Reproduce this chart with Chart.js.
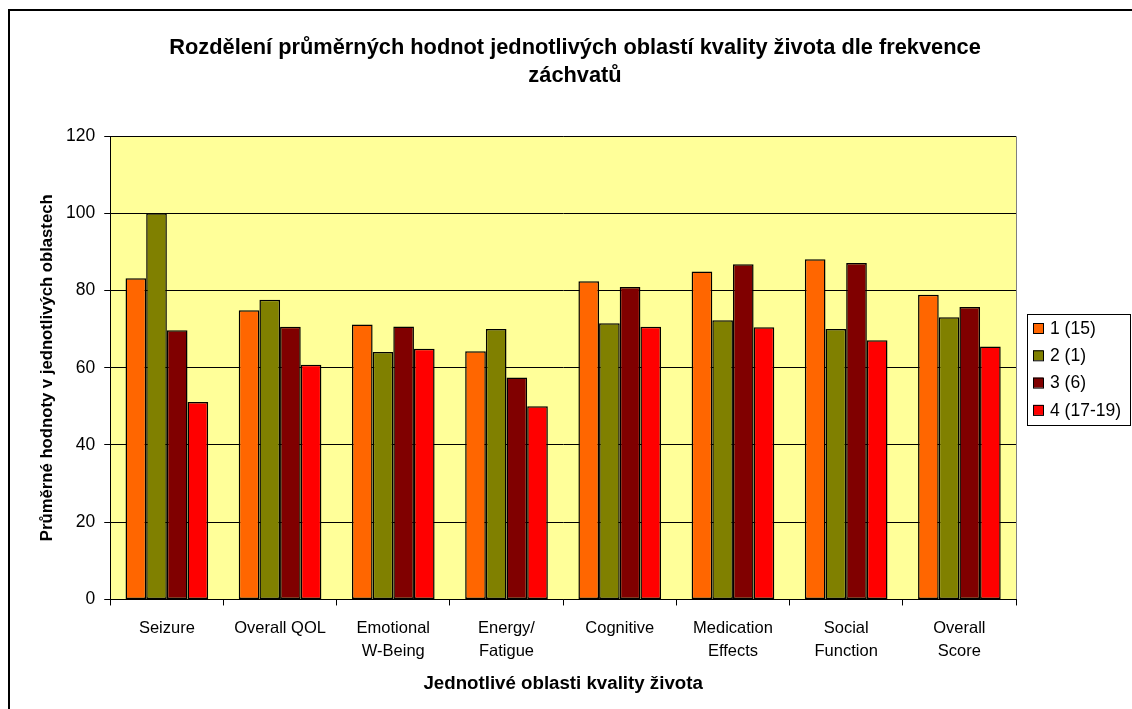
<!DOCTYPE html>
<html>
<head>
<meta charset="utf-8">
<script src="https://cdn.jsdelivr.net/npm/chart.js@4/dist/chart.umd.min.js"></script>
<style>
  html, body { margin: 0; padding: 0; background: #fff; }
  #wrap { width: 1132px; height: 709px; position: relative; }
</style>
</head>
<body>
<div id="wrap"><canvas id="chart"></canvas></div>
<script>
const categories = ["Seizure", "Overall QOL", ["Emotional", "W-Being"], ["Energy/", "Fatigue"],
  "Cognitive", ["Medication", "Effects"], ["Social", "Function"], ["Overall", "Score"]];
const seriesNames = ["1 (15)", "2 (1)", "3 (6)", "4 (17-19)"];
const group1 = [83.2, 74.9, 71.2, 64.3, 82.4, 84.9, 88.1, 78.9];
const group2 = [100, 77.6, 64.1, 70.0, 71.5, 72.3, 70.0, 73.1];
const group3 = [69.7, 70.6, 70.7, 57.5, 80.9, 86.8, 87.1, 75.7];
const group4 = [51.1, 60.8, 64.9, 50.0, 70.6, 70.5, 67.1, 65.5];
const colors = ["#FF6600", "#808000", "#800000", "#FF0000"];

const FONT = "'Liberation Sans', Arial, sans-serif";

// frame, plot background, legend box
const decor = {
  id: "decor",
  beforeDraw(chart) {
    const { ctx, chartArea: a } = chart;
    ctx.save();
    ctx.fillStyle = "#FFFF99";
    ctx.fillRect(a.left, a.top, a.right - a.left, a.bottom - a.top);
    ctx.strokeStyle = "#808080";
    ctx.lineWidth = 1;
    ctx.beginPath();
    ctx.moveTo(a.left, a.top + 0.5);
    ctx.lineTo(a.right + 0.5, a.top + 0.5);
    ctx.lineTo(a.right + 0.5, a.bottom);
    ctx.stroke();
    ctx.restore();
  },
  afterLayout(chart) {
    // centre the title across the whole picture, not just the plot
    if (chart.titleBlock) {
      chart.titleBlock.left = 18;
      chart.titleBlock.right = 1132;
    }
  },
  afterDraw(chart) {
    const { ctx } = chart;
    ctx.save();
    ctx.strokeStyle = "#000";
    ctx.lineWidth = 2;
    ctx.beginPath();
    ctx.moveTo(9, 709);
    ctx.lineTo(9, 10);
    ctx.lineTo(1132, 10);
    ctx.stroke();

    // legend
    const lx = 1027, ly = 314, lw = 103, lh = 111;
    ctx.lineWidth = 1;
    ctx.fillStyle = "#fff";
    ctx.fillRect(lx, ly, lw, lh);
    ctx.strokeRect(lx + 0.5, ly + 0.5, lw, lh);
    ctx.font = "17.5px " + FONT;
    ctx.textBaseline = "middle";
    chart.data.datasets.forEach((ds, i) => {
      const cy = 328 + i * 27.3;
      ctx.fillStyle = ds.backgroundColor;
      ctx.fillRect(lx + 6, cy - 5, 10, 10);
      ctx.strokeStyle = "#000";
      ctx.strokeRect(lx + 6.5, cy - 4.5, 10, 10);
      ctx.fillStyle = "#000";
      ctx.fillText(ds.label, lx + 23, cy + 1);
    });
    ctx.restore();
  }
};

const datasets = [group1, group2, group3, group4].map((d, i) => ({
  label: seriesNames[i],
  data: d,
  backgroundColor: colors[i],
  borderColor: "#000",
  borderWidth: 1.5,
  borderSkipped: false,
  categoryPercentage: 0.73,
  barPercentage: 1
}));

new Chart(document.getElementById("chart"), {
  type: "bar",
  data: { labels: categories, datasets: datasets },
  plugins: [decor],
  options: {
    responsive: true,
    maintainAspectRatio: false,
    animation: false,
    layout: { padding: { left: 28, right: 116, top: 10, bottom: 14.4 } },
    plugins: {
      legend: { display: false },
      tooltip: { enabled: false },
      title: {
        display: true,
        text: ["Rozdělení průměrných hodnot jednotlivých oblastí kvality života dle frekvence", "záchvatů"],
        color: "#000",
        font: { family: FONT, size: 21.8, weight: "bold", lineHeight: 1.28 },
        padding: { top: 24, bottom: 46.2 }
      }
    },
    scales: {
      x: {
        grid: { display: true, drawOnChartArea: false, drawTicks: true, tickLength: 6, color: "#000", offset: true },
        border: { display: true, color: "#000" },
        ticks: { color: "#000", padding: 11.5, maxRotation: 0, autoSkip: false,
          font: { family: FONT, size: 16.5, lineHeight: 1.4 } },
        title: { display: true, text: "Jednotlivé oblasti kvality života", color: "#000",
          font: { family: FONT, size: 18.7, weight: "bold" }, padding: { top: -2.5, bottom: 0 } }
      },
      y: {
        min: 0, max: 120,
        grid: { color: "#000", lineWidth: 1, tickLength: 6 },
        border: { display: true, color: "#000" },
        ticks: { stepSize: 20, color: "#000", padding: 9, font: { family: FONT, size: 17.5 } },
        title: { display: true, text: "Průměrné hodnoty v jednotlivých oblastech", color: "#000",
          font: { family: FONT, size: 16.7, weight: "bold" }, padding: { top: 9, bottom: 0 } }
      }
    }
  }
});
</script>
</body>
</html>
